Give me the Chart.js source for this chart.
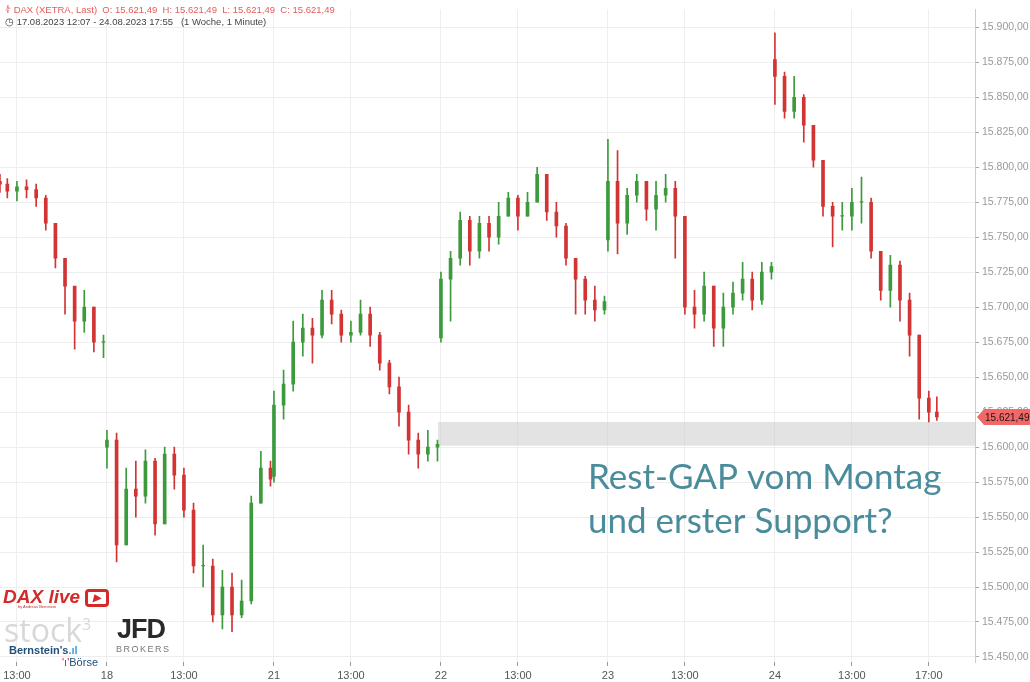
<!DOCTYPE html>
<html>
<head>
<meta charset="utf-8">
<script src="https://cdn.jsdelivr.net/npm/chart.js@4/dist/chart.umd.min.js"></script>
<style>
  body { margin:0; background:#fff; font-family:"Liberation Sans", Arial, sans-serif; }
  #wrap { position:relative; width:1030px; height:682px; }
  canvas { position:absolute; left:0; top:0; }
  .hdr { position:absolute; left:5px; font-size:9.5px; white-space:nowrap; }
  .logo { position:absolute; white-space:nowrap; }
</style>
</head>
<body>
<div id="wrap">
  <canvas id="c" width="1030" height="682"></canvas>
  <div class="hdr" style="top:4px;color:#e55b5b">&#x2AE9; DAX (XETRA, Last)&nbsp; O: 15.621,49&nbsp; H: 15.621,49&nbsp; L: 15.621,49&nbsp; C: 15.621,49</div>
  <div class="hdr" style="top:16px;color:#444">&#x25F7; 17.08.2023 12:07 - 24.08.2023 17:55&nbsp;&nbsp; (1 Woche, 1 Minute)</div>
  <div class="logo" style="left:3px;top:586px;color:#d42a2a;font:italic bold 19px 'Liberation Sans'">DAX live <span style="display:inline-block;border:3px solid #d42a2a;border-radius:4px;width:18px;height:12px;font-size:10px;line-height:12px;text-align:center;vertical-align:2px">&#9654;</span></div>
  <div class="logo" style="left:18px;top:604px;color:#b33;font-size:4px">by Andreas Bernstein</div>
  <div class="logo" style="left:4px;top:608px;color:#d8d8d8;font:32px 'Open Sans'">stock<sup style="font-size:16px">3</sup></div>
  <div class="logo" style="left:117px;top:614px;color:#2a2a2a;font:bold 27px 'Liberation Sans';letter-spacing:-1px">JFD</div>
  <div class="logo" style="left:116px;top:644px;color:#777;font:9px 'Liberation Sans';letter-spacing:1.5px">BROKERS</div>
  <div class="logo" style="left:9px;top:644px;color:#1f4e79;font:bold 11px 'Liberation Sans'">Bernstein's<span style="color:#3aa0e0">.ıl</span></div>
  <div class="logo" style="left:62px;top:656px;color:#1f4e79;font:11px 'Liberation Sans'"><span style="color:#d42a2a">'ı'</span>Börse</div>
</div>
<script>
const dayIndex = { "17": 0, "18": 1, "21": 2, "22": 3, "23": 4, "24": 5 };
const sessionHours = 8.68;

const candleTimes = [
  "17 12:07","17 12:30","17 13:00","17 13:30","17 14:00","17 14:30","17 15:00","17 15:30","17 16:00","17 16:30","17 17:00","17 17:30",
  "18 9:00","18 9:30","18 10:00","18 10:30","18 11:00","18 11:30","18 12:00","18 12:30","18 13:00","18 13:30","18 14:00","18 14:30","18 15:00","18 15:30","18 16:00","18 16:30","18 17:00","18 17:30",
  "21 9:00","21 9:30","21 10:00","21 10:30","21 11:00","21 11:30","21 12:00","21 12:30","21 13:00","21 13:30","21 14:00","21 14:30","21 15:00","21 15:30","21 16:00","21 16:30","21 17:00","21 17:30",
  "22 9:00","22 9:30","22 10:00","22 10:30","22 11:00","22 11:30","22 12:00","22 12:30","22 13:00","22 13:30","22 14:00","22 14:30","22 15:00","22 15:30","22 16:00","22 16:30","22 17:00","22 17:30",
  "23 9:00","23 9:30","23 10:00","23 10:30","23 11:00","23 11:30","23 12:00","23 12:30","23 13:00","23 13:30","23 14:00","23 14:30","23 15:00","23 15:30","23 16:00","23 16:30","23 17:00","23 17:30",
  "24 9:00","24 9:30","24 10:00","24 10:30","24 11:00","24 11:30","24 12:00","24 12:30","24 13:00","24 13:30","24 14:00","24 14:30","24 15:00","24 15:30","24 16:00","24 16:30","24 17:00","24 17:25"
];
const opens = [
  15790,15788,15783,15786,15784,15778,15760,15735,15715,15690,15700,15675,
  15600,15605,15530,15570,15565,15590,15545,15595,15580,15555,15515,15515,15480,15500,15480,15490,15560,15585,
  15579,15630,15645,15675,15685,15680,15705,15695,15680,15682,15695,15680,15660,15643,15625,15605,15595,15600,
  15678,15720,15735,15762,15740,15760,15750,15765,15778,15765,15775,15795,15768,15758,15735,15720,15705,15698,
  15748,15790,15760,15780,15790,15770,15780,15785,15765,15700,15695,15715,15685,15700,15710,15720,15705,15725,
  15877,15865,15840,15850,15830,15805,15772,15765,15765,15775,15775,15740,15712,15730,15705,15680,15635,15625
];
const highs = [
  15795,15792,15790,15791,15788,15780,15760,15735,15712,15712,15700,15680,
  15612,15610,15585,15590,15598,15592,15600,15600,15585,15560,15530,15520,15512,15510,15505,15565,15597,15590,
  15640,15655,15690,15695,15692,15712,15712,15698,15690,15705,15700,15682,15662,15650,15630,15610,15612,15605,
  15725,15740,15768,15765,15765,15765,15775,15782,15780,15782,15800,15795,15775,15760,15728,15722,15715,15708,
  15820,15812,15785,15795,15790,15790,15795,15790,15765,15712,15725,15715,15710,15718,15732,15725,15732,15732,
  15896,15868,15865,15852,15830,15805,15775,15775,15785,15793,15778,15740,15737,15733,15710,15680,15640,15636
];
const lows = [
  15782,15778,15776,15778,15772,15755,15728,15695,15670,15682,15668,15664,
  15585,15518,15530,15550,15560,15537,15545,15570,15550,15510,15500,15475,15470,15468,15478,15488,15560,15572,
  15575,15620,15640,15665,15660,15678,15688,15675,15675,15680,15672,15655,15638,15615,15595,15585,15590,15590,
  15675,15690,15730,15730,15735,15740,15745,15765,15755,15765,15775,15762,15750,15730,15695,15695,15690,15695,
  15740,15738,15752,15775,15762,15755,15775,15735,15695,15685,15690,15672,15672,15695,15705,15698,15702,15720,
  15845,15835,15835,15818,15800,15765,15743,15755,15755,15760,15735,15705,15700,15690,15665,15620,15618,15619
];
const closes = [
  15788,15783,15786,15784,15778,15760,15735,15715,15690,15700,15675,15675,
  15605,15530,15570,15565,15590,15545,15595,15580,15555,15515,15515,15480,15500,15480,15490,15560,15585,15577,
  15630,15645,15675,15685,15680,15705,15695,15680,15682,15695,15680,15660,15643,15625,15605,15595,15600,15602,
  15720,15735,15762,15740,15760,15750,15765,15778,15765,15775,15795,15768,15758,15735,15720,15705,15698,15704,
  15790,15760,15780,15790,15770,15780,15785,15765,15700,15695,15715,15685,15700,15710,15720,15705,15725,15729,
  15865,15840,15850,15830,15805,15772,15765,15765,15775,15775,15740,15712,15730,15705,15680,15635,15625,15621.49
];

const xTickTimes = ["17 13:00","18 9:00","18 13:00","21 9:00","21 13:00","22 9:00","22 13:00","23 9:00","23 13:00","24 9:00","24 13:00","24 17:00"];
const xTickLabels = ["13:00","18","13:00","21","13:00","22","13:00","23","13:00","24","13:00","17:00"];

const gapZone = { from: 15601, to: 15618, start: "21 17:32" };
const lastPrice = 15621.49;

function toX(s) {
  const [d, hm] = s.split(" ");
  const [h, m] = hm.split(":").map(Number);
  return dayIndex[d] * sessionHours + h + m / 60 - 9;
}
const de = v => v.toLocaleString("de-DE", { minimumFractionDigits: 2, maximumFractionDigits: 2 });

const up = "#3c9a3c", dn = "#d23434";
const cols = closes.map((c, i) => c >= opens[i] ? up : dn);
const xs = candleTimes.map(toX);
const tickXs = xTickTimes.map(toX);

const overlay = {
  id: "overlay",
  beforeDatasetsDraw(chart) {
    const { ctx, scales: { x, y }, chartArea } = chart;
    ctx.save();
    ctx.fillStyle = "rgba(200,200,200,0.5)";
    const x0 = x.getPixelForValue(toX(gapZone.start));
    ctx.fillRect(x0, y.getPixelForValue(gapZone.to), chartArea.right - x0, y.getPixelForValue(gapZone.from) - y.getPixelForValue(gapZone.to));
    ctx.restore();
  },
  afterDraw(chart) {
    const { ctx, scales: { y }, chartArea } = chart;
    ctx.save();
    ctx.fillStyle = "#4a8c9c";
    ctx.font = "35px Lato";
    ctx.fillText("Rest-GAP vom Montag", 588, 489);
    ctx.fillText("und erster Support?", 588, 533);
    const py = y.getPixelForValue(lastPrice);
    const l = chartArea.right + 2;
    ctx.fillStyle = "#f06868";
    ctx.beginPath();
    ctx.moveTo(l, py); ctx.lineTo(l + 7, py - 8); ctx.lineTo(1030, py - 8);
    ctx.lineTo(1030, py + 8); ctx.lineTo(l + 7, py + 8); ctx.closePath(); ctx.fill();
    ctx.fillStyle = "#2a1010";
    ctx.font = "10px 'Liberation Sans'";
    ctx.textBaseline = "middle";
    ctx.fillText(de(lastPrice), l + 8, py + 1);
    ctx.restore();
  }
};

new Chart(document.getElementById("c"), {
  type: "bar",
  data: {
    datasets: [
      { data: xs.map((x, i) => ({ x, y: [lows[i], highs[i]] })), backgroundColor: cols, barThickness: 1, grouped: false, order: 2 },
      { data: xs.map((x, i) => ({ x, y: [opens[i], closes[i] === opens[i] ? closes[i] + 0.5 : closes[i]] })), backgroundColor: cols, barThickness: 3, grouped: false, order: 1 }
    ]
  },
  options: {
    responsive: false,
    animation: false,
    layout: { padding: 0 },
    plugins: { legend: { display: false }, tooltip: { enabled: false } },
    scales: {
      x: {
        type: "linear", min: 3.12, max: 53.8, offset: false,
        afterBuildTicks: s => { s.ticks = tickXs.map(v => ({ value: v })); },
        afterFit: s => { s.height = 20; },
        ticks: { autoSkip: false, maxRotation: 0, color: "#555", font: { size: 11, family: "Liberation Sans" },
          callback: v => xTickLabels[tickXs.findIndex(t => Math.abs(t - v) < 1e-6)] },
        grid: { color: "#eeeeee", tickLength: 4, tickColor: "#999", offset: false },
        border: { display: false }
      },
      y: {
        position: "right", min: 15446.4, max: 15912.9,
        afterBuildTicks: s => { const t = []; for (let v = 15450; v <= 15900; v += 25) t.push({ value: v }); s.ticks = t; },
        afterFit: s => { s.width = 55; },
        ticks: { color: "#999", font: { size: 10.5, family: "Liberation Sans" }, padding: 3, callback: v => de(v) },
        grid: { color: "#eeeeee", tickLength: 4, tickColor: "#aaa" },
        border: { color: "#ccc" }
      }
    }
  },
  plugins: [overlay]
});
</script>
</body>
</html>
